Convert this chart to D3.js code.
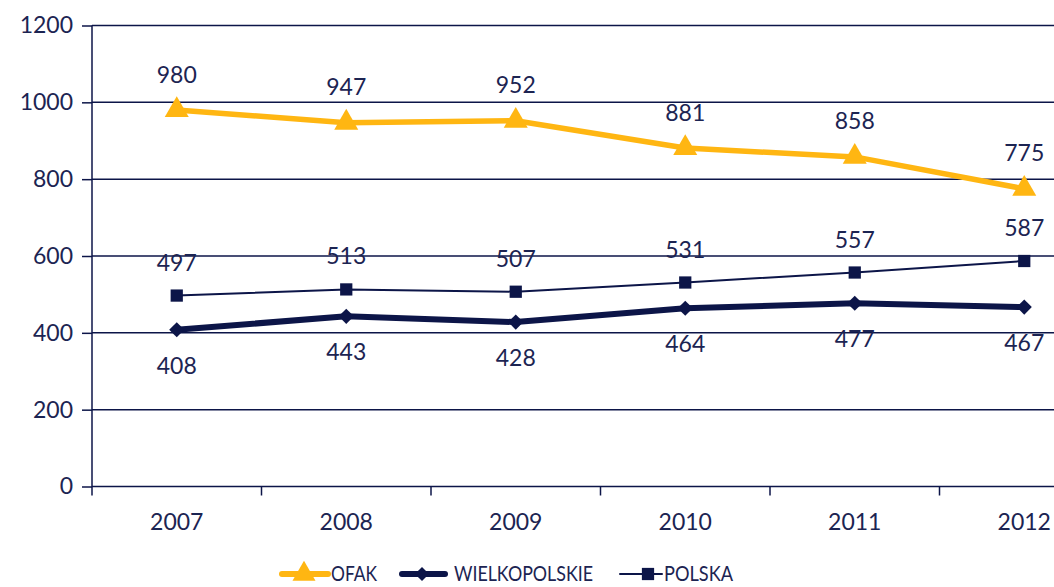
<!DOCTYPE html>
<html>
<head>
<meta charset="utf-8">
<script src="https://cdn.jsdelivr.net/npm/d3@7"></script>
<style>
  html, body { margin: 0; padding: 0; background: #fff; }
  svg { display: block; font-family: Lato, "Open Sans", sans-serif; }
</style>
</head>
<body>
<svg id="chart" width="1054" height="587"></svg>
<script>
// Yearly values for the three series
const years = ["2007", "2008", "2009", "2010", "2011", "2012"];
const ofak = [980, 947, 952, 881, 858, 775];
const wielkopolskie = [408, 443, 428, 464, 477, 467];
const polska = [497, 513, 507, 531, 557, 587];
const yTicks = [0, 200, 400, 600, 800, 1000, 1200];

const navy = "#0c1548";
const gold = "#ffb612";
const textColor = "#1c2452";
const fontSize = 23;

const svg = d3.select("#chart");
const plotLeft = 92, plotTop = 25.5, plotBottom = 486.5;
const band = 169.5;

const x = d3.scaleBand().domain(years).range([plotLeft, plotLeft + band * years.length]).padding(0);
const y = d3.scaleLinear().domain([0, 1200]).range([plotBottom, plotTop]);
const cx = d => x(d) + x.bandwidth() / 2;

// Horizontal gridlines across the plot
svg.append("g").selectAll("line").data(yTicks).join("line")
  .attr("x1", plotLeft).attr("x2", 1054)
  .attr("y1", d => y(d)).attr("y2", d => y(d))
  .attr("stroke", navy).attr("stroke-width", 1.5);

// Value axis with outer tick marks
const yAxis = d3.axisLeft(y).tickValues(yTicks).tickFormat(d3.format("d")).tickSize(10).tickPadding(9);
const gy = svg.append("g").attr("transform", `translate(${plotLeft},0)`).call(yAxis);
gy.attr("font-family", null).attr("font-size", null);
gy.select(".domain").attr("stroke", navy).attr("stroke-width", 1.5).attr("d", `M0,${plotTop}V${plotBottom + 9}`);
gy.selectAll(".tick line").attr("stroke", navy).attr("stroke-width", 1.5);
gy.selectAll(".tick text").attr("fill", textColor).attr("font-size", fontSize);

// Category axis with boundary ticks
const gx = svg.append("g").attr("transform", `translate(0,${plotBottom})`);
gx.selectAll("line").data(years).join("line")
  .attr("x1", d => x(d) + x.bandwidth()).attr("x2", d => x(d) + x.bandwidth())
  .attr("y1", 0).attr("y2", 9).attr("stroke", navy).attr("stroke-width", 1.5);
gx.selectAll("text").data(years).join("text")
  .attr("x", d => cx(d)).attr("y", 43.5)
  .attr("text-anchor", "middle")
  .attr("fill", textColor).attr("font-size", fontSize)
  .text(d => d);

const line = d3.line().x((d, i) => cx(years[i])).y(d => y(d));

function drawSeries(values, color, width, symbolType, symbolSize, rotate, labelDy) {
  const g = svg.append("g");
  g.append("path").datum(values).attr("d", line)
    .attr("fill", "none").attr("stroke", color).attr("stroke-width", width)
    .attr("stroke-linejoin", "round");
  g.selectAll("path.m").data(values).join("path").attr("class", "m")
    .attr("transform", (d, i) => `translate(${cx(years[i])},${y(d)}) rotate(${rotate})`)
    .attr("d", d3.symbol().type(symbolType).size(symbolSize))
    .attr("fill", color);
  g.selectAll("text").data(values).join("text")
    .attr("x", (d, i) => cx(years[i])).attr("y", d => y(d) + labelDy)
    .attr("text-anchor", "middle")
    .attr("fill", textColor).attr("font-size", fontSize)
    .text(d => d);
}

drawSeries(polska, navy, 2, d3.symbolSquare, 150, 0, -25);
drawSeries(wielkopolskie, navy, 6, d3.symbolSquare, 115, 45, 44);
drawSeries(ofak, gold, 5.5, d3.symbolTriangle, 250, 0, -27.5);

// Legend along the bottom edge
const legend = [
  { name: "OFAK", color: gold, width: 6, sym: d3.symbolTriangle, size: 230, rot: 0, x0: 282, x1: 328, mx: 304, tx: 331, tw: 46 },
  { name: "WIELKOPOLSKIE", color: navy, width: 6, sym: d3.symbolSquare, size: 100, rot: 45, x0: 402, x1: 445, mx: 422, tx: 454, tw: 139 },
  { name: "POLSKA", color: navy, width: 2, sym: d3.symbolSquare, size: 150, rot: 0, x0: 620, x1: 662, mx: 648, tx: 664, tw: 69 }
];
const ly = 574;
const lg = svg.append("g").selectAll("g").data(legend).join("g");
lg.append("line").attr("x1", d => d.x0).attr("x2", d => d.x1).attr("y1", ly).attr("y2", ly)
  .attr("stroke", d => d.color)
  .attr("stroke-width", d => d.width).attr("stroke-linecap", "round");
lg.append("path").attr("transform", d => `translate(${d.mx},${ly}) rotate(${d.rot})`)
  .attr("d", d => d3.symbol().type(d.sym).size(d.size)()).attr("fill", d => d.color);
lg.append("text").attr("x", d => d.tx).attr("y", 581)
  .attr("textLength", d => d.tw).attr("lengthAdjust", "spacingAndGlyphs")
  .attr("fill", textColor).attr("font-size", 21).text(d => d.name);
</script>
</body>
</html>
